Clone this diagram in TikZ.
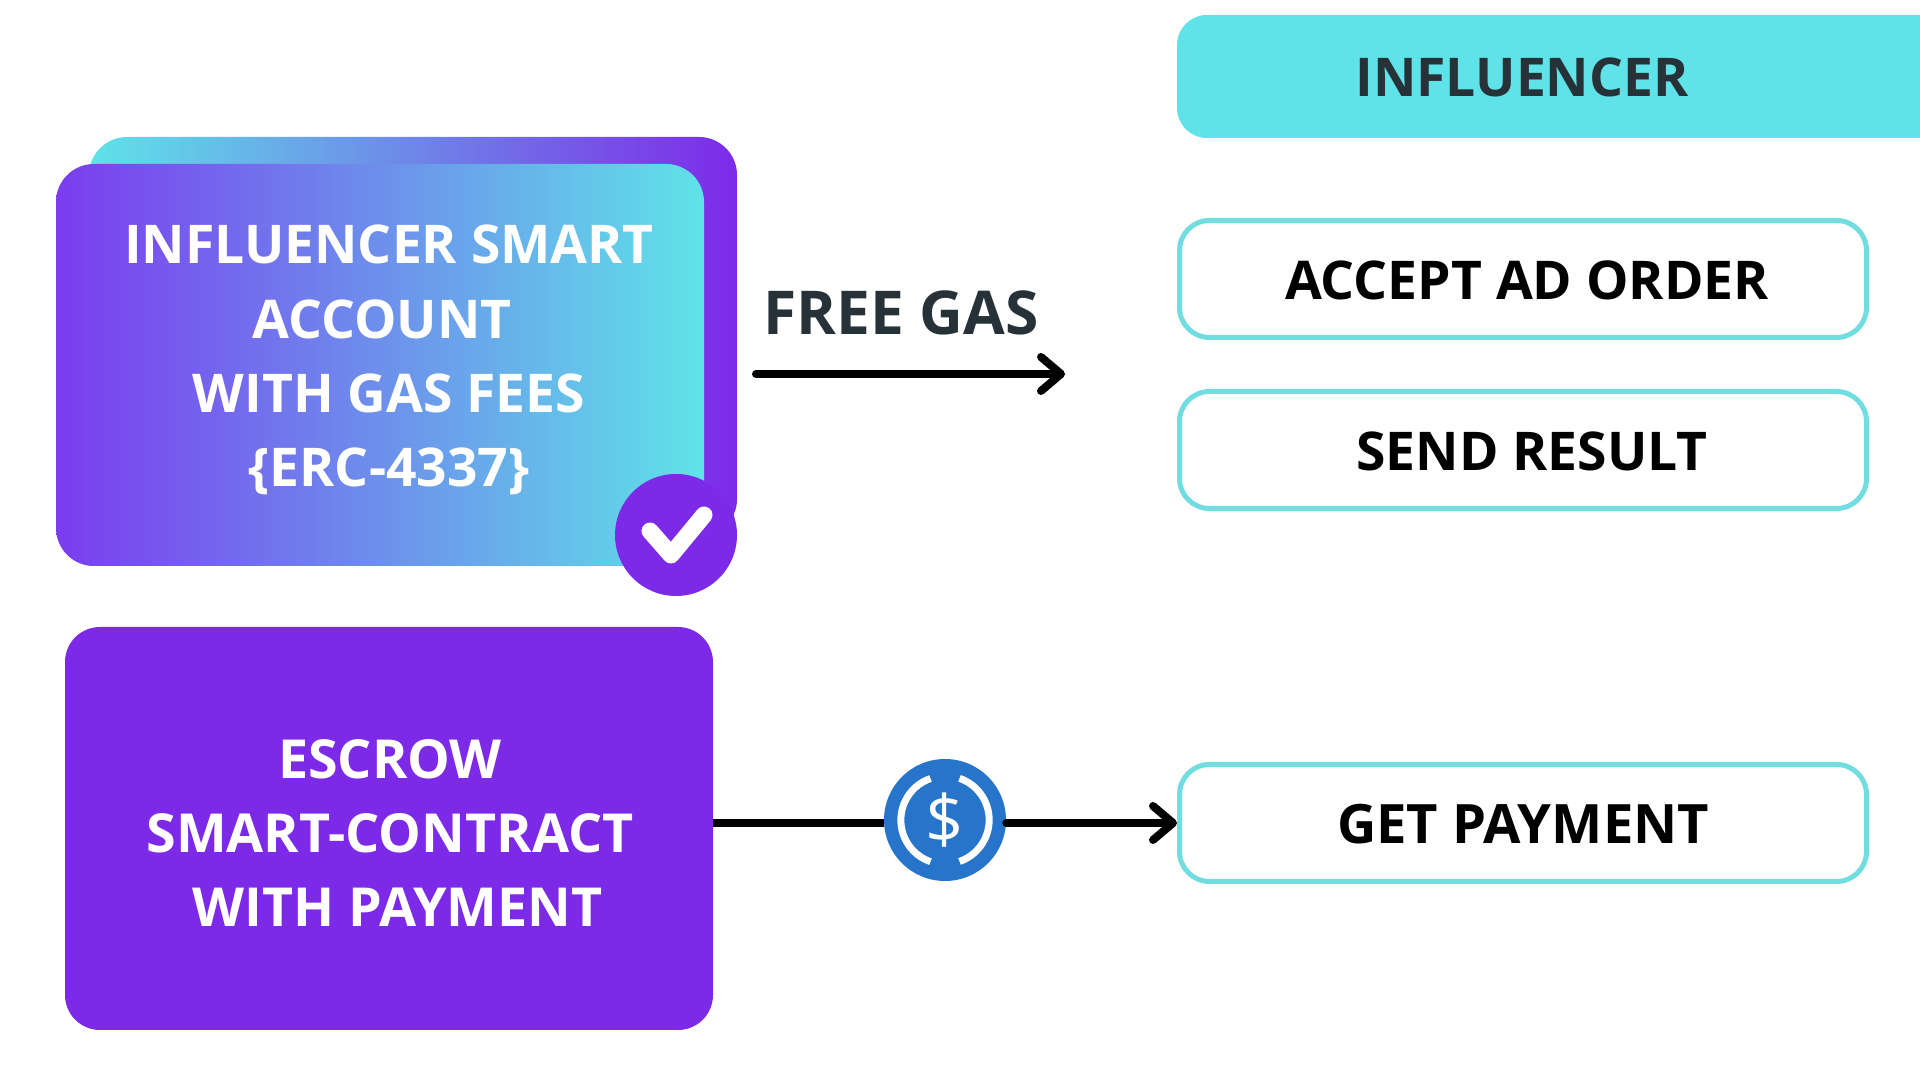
\documentclass[tikz,border=0pt]{standalone}
\usepackage{fontspec}
\setmainfont{Open Sans}
\usetikzlibrary{positioning,arrows.meta}
\definecolor{vio}{HTML}{7D2AE8}
\definecolor{lil}{HTML}{7B3CEF}
\definecolor{tea}{HTML}{5FE3E8}
\definecolor{edg}{HTML}{72DDE1}
\definecolor{ink}{HTML}{263238}
\definecolor{usd}{HTML}{2775CA}

\begin{document}
\begin{tikzpicture}[
  panel/.style={rounded corners=0.38cm,minimum width=6.48cm,outer sep=0pt,inner sep=0pt},
  act/.style={draw=edg,line width=0.05cm,rounded corners=0.3cm,fill=white,minimum width=6.87cm,minimum height=1.17cm,outer sep=0.025cm,inner sep=0pt},
  big/.style={font=\fontsize{15.2}{21.1}\selectfont\bfseries,align=center,inner sep=0pt},
  wire/.style={line width=0.08cm,line cap=round,-{Straight Barb[length=0.2cm,width=0.34cm,line width=0.08cm,round]}}
]
\clip (0,0) rectangle (19.2,10.8);
\fill[white] (0,0) rectangle (19.2,10.8);
\node[rounded corners=0.3cm,fill=tea,minimum width=9cm,minimum height=1.23cm,anchor=north west,outer sep=0pt] (head) at (11.77,10.65) {};
\node[big,text=ink] (headt) at (15.22,10.03) {INFLUENCER};
\node[act,anchor=north west] (accept) at (11.77,8.62) {};
\node[act,below=0.49cm of accept] (send) {};
\node[act,below=2.51cm of send] (get) {};
\node[big,text=black] at (15.27,8.0) {ACCEPT AD ORDER};
\node[big,text=black] at (15.32,6.29) {SEND RESULT};
\node[big,text=black,font=\fontsize{15.45}{21}\selectfont\bfseries] at (15.23,2.56) {GET PAYMENT};
% left boxes
\node[panel,left color=tea,right color=vio,minimum height=4.0cm,anchor=north west] (back) at (0.89,9.43) {};
\node[panel,left color=lil,right color=tea,minimum height=4.02cm,anchor=north west] (front) at (0.56,9.16) {};
\node[big,text=white] (frontt) at (3.89,7.2) {INFLUENCER SMART\\ACCOUNT\hspace*{0.14cm}\mbox{}\\WITH GAS FEES\\\{ERC-4337\}};
\node[circle,fill=vio,minimum size=1.22cm,outer sep=0pt] (check) at (6.76,5.45) {};
\draw[white,line width=0.17cm,line cap=round,line join=round] ([shift={(-0.26,0.04)}]check.center) -- ([shift={(-0.05,-0.2)}]check.center) -- ([shift={(0.28,0.2)}]check.center);
\node[panel,fill=vio,minimum height=4.03cm,anchor=north west,rounded corners=0.35cm] (escrow) at (0.65,4.53) {};
\node[big,text=white,font=\fontsize{15.3}{21.1}\selectfont\bfseries] (escrowt) at (3.9,2.47) {ESCROW\\SMART-CONTRACT\\\hspace*{0.15cm}WITH PAYMENT};
% gas arrow
\coordinate (g1) at (7.56,7.06);
\coordinate (g2) at (10.65,7.06);
\draw[wire] (g1) -- (g2);
\node[big,text=ink,font=\fontsize{17.2}{21}\selectfont\bfseries] (gas) at (9.01,7.67) {FREE GAS};
% payment line
\node[circle,fill=usd,minimum size=1.22cm,outer sep=0pt] (coin) at (9.45,2.6) {};
\draw[line width=0.075cm] (escrow.east |- get.west) -- (coin.west |- get.west);
\draw[wire,line width=0.075cm] (coin.east |- get.west) -- (get.west);
\draw[white,line width=0.07cm] ([shift={(-0.145,0.415)}]coin.center) arc[start angle=109,end angle=251,radius=0.44cm];
\draw[white,line width=0.07cm] ([shift={(0.145,-0.415)}]coin.center) arc[start angle=-71,end angle=71,radius=0.44cm];
\node[text=white,font=\fontsize{19}{19}\selectfont,inner sep=0pt] (dollar) at (coin.center) {\$};
\end{tikzpicture}
\end{document}
